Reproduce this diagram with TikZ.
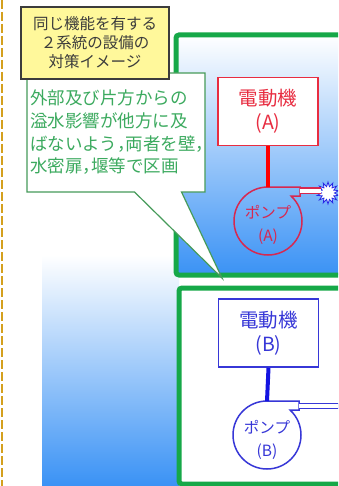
\documentclass[tikz,border=0pt]{standalone}
\usepackage{fontspec}
\setmainfont{Noto Sans CJK JP}
\newfontfamily\halfpunct[RawFeature=+halt]{Noto Sans CJK JP}
\usetikzlibrary{shapes.geometric,shapes.callouts}
\definecolor{wallgreen}{RGB}{22,168,72}
\definecolor{notegreen}{RGB}{70,155,90}
\definecolor{notetext}{RGB}{60,170,95}
\definecolor{motorred}{RGB}{232,45,65}
\definecolor{pumpred}{RGB}{215,40,80}
\definecolor{motorblue}{RGB}{55,55,215}
\definecolor{shaftblue}{RGB}{20,20,225}
\definecolor{burstblue}{RGB}{40,40,230}
\definecolor{skyblue}{RGB}{58,146,245}
\definecolor{midblue}{RGB}{168,202,250}
\definecolor{titleyellow}{RGB}{255,248,155}
\definecolor{titlegray}{RGB}{60,60,60}
\definecolor{dashorange}{RGB}{212,160,30}
% half-width comma
\newcommand{\hten}{{\halfpunct ，}}

\begin{document}
\begin{tikzpicture}[x=1pt,y=-1pt,
  room/.style={draw=wallgreen, line width=5pt, rounded corners=3pt},
  motor/.style={rectangle, draw, fill=white, line width=1.5pt, minimum width=100pt, minimum height=68pt, align=center, font=\fontsize{19.5}{24}\selectfont},
  pump/.style={circle, minimum size=68pt, inner sep=0pt, outer sep=0pt},
  pumplabel/.style={align=center, font=\fontsize{15.5}{23}\selectfont},
  volute/.style={line width=1.5pt},
  shaft/.style={line width=4pt},
  pipe/.style={double=white, double distance=4pt, line width=1.3pt}
]

\clip (0,0) rectangle (338,486);
\fill[white] (0,0) rectangle (338,486);

% shaded strip beside room B
\shade[top color=white, bottom color=skyblue] (42,255) rectangle (179,486);

% the two rooms
\draw[room, top color=white, middle color=midblue, bottom color=skyblue] (176,35) rectangle (360,275);
\draw[room, fill=white] (179,288) rectangle (360,484);

% motors
\node[motor, draw=motorred, text=motorred] (motA) at (268,111.5) {電動機\\(A)};
\node[motor, draw=motorblue, text=motorblue] (motB) at (268.5,333) {電動機\\(B)};

% pumps (angles of the arcs are canvas angles)
\node[pump] (pumpA) at (268,221) {};
\node[pump] (pumpB) at (267,435) {};
\draw[volute, pumpred] (pumpA.north) arc[start angle=90, end angle=407, radius=34pt] -- ++(9,0) -- ++(0,-9) -- cycle;
\draw[volute, motorblue] (pumpB.north) arc[start angle=90, end angle=407, radius=34pt] -- ++(9,0) -- ++(0,-9) -- cycle;
\node[pumplabel, text=pumpred] (pumpAtxt) at ([yshift=-4pt]pumpA.center) {ポンプ\\(A)};
\node[pumplabel, text=motorblue] (pumpBtxt) at ([yshift=-5pt]pumpB.center) {ポンプ\\(B)};

% shafts
\draw[shaft, red] (motA.south) -- (pumpA.north);
\draw[shaft, shaftblue] (motB.south) -- (pumpB.north);

% outlets
\path (pumpA.north) ++(32,3.5) coordinate (outA);
\path (pumpB.north) ++(32,5) coordinate (outB);
\coordinate (edgeB) at (345,406);
\node[star, star points=14, star point ratio=1.7, minimum size=22pt, inner sep=0pt, draw=burstblue, fill=white, line width=0.8pt] (burst) at (328,193) {};
\draw[pipe, pumpred] (outA) -- (burst.west |- outA);
\draw[pipe, motorblue] (outB) -- (edgeB);

% callout
\node[rectangle callout, callout absolute pointer={(222,278)}, callout pointer width=47pt,
  draw=notegreen, line width=1.2pt, fill=white, text=notetext, text width=172pt, inner xsep=3pt,
  minimum height=119pt, align=left, font=\fontsize{17.5}{22.7}\selectfont] (note) at (116,132.5)
  {外部及び片方からの\\溢水影響が他方に及\\ばないよう\hten 両者を壁\hten\\水密扉\hten 堰等で区画};

% title
\node[draw=titlegray, line width=1.5pt, fill=titleyellow, text=titlegray, minimum width=148pt, minimum height=72pt,
  inner sep=2pt, align=center, font=\fontsize{15.5}{19}\selectfont] (title) at (95,43)
  {同じ機能を有する\\２系統の設備の\\対策イメージ};

% dashed border line
\draw[dashorange, line width=2.5pt, dash pattern=on 9pt off 3pt] (2,0) -- (2,486);

\end{tikzpicture}
\end{document}
